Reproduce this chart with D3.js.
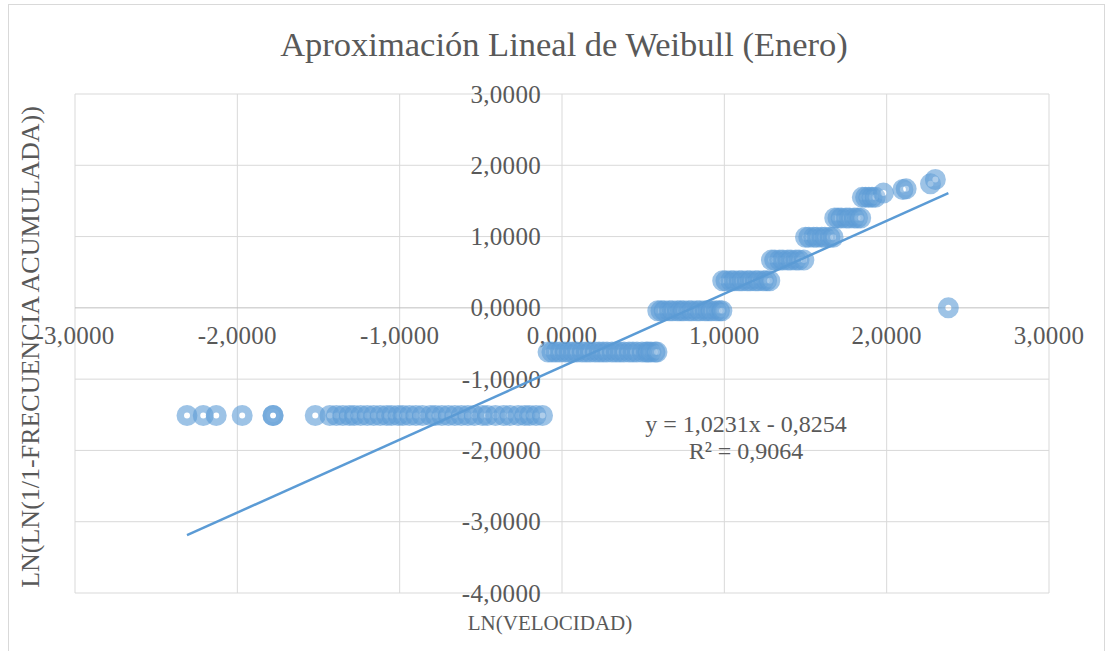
<!DOCTYPE html>
<html lang="es">
<head>
<meta charset="utf-8">
<title>Aproximación Lineal de Weibull (Enero)</title>
<script src="https://cdn.jsdelivr.net/npm/d3@7"></script>
<style>
  body { margin: 0; background: #fff; }
  svg text { font-family: "Liberation Serif", "Times New Roman", Times, serif; fill: #595959; }
  .grid { stroke: #D9D9D9; stroke-width: 1; }
</style>
</head>
<body>
<script>
// niveles de LN(LN(1/(1-F))) y valores de LN(velocidad) de cada nivel
var yLevels = [-1.51, -0.62, -0.04, 0.38, 0.67, 0.99, 1.26, 1.55];
var xRows = [
  [-2.31, -2.21, -2.13, -1.97, -1.78, -1.78, -1.52, -1.43, -1.39, -1.35, -1.31, -1.28, -1.24, -1.20,
   -1.16, -1.12, -1.08, -1.05, -1.01, -0.98, -0.94, -0.90, -0.86, -0.81, -0.78, -0.74, -0.70, -0.66,
   -0.62, -0.58, -0.54, -0.49, -0.46, -0.41, -0.36, -0.32, -0.27, -0.23, -0.20, -0.16, -0.12],
  [-0.086, -0.062, -0.037, -0.012, 0.018, 0.043, 0.068, 0.092, 0.123, 0.148, 0.173, 0.203, 0.228,
   0.253, 0.277, 0.308, 0.333, 0.357, 0.382, 0.413, 0.437, 0.462, 0.493, 0.518, 0.53, 0.548, 0.573, 0.585],
  [0.59, 0.61, 0.63, 0.66, 0.68, 0.71, 0.73, 0.75, 0.78, 0.80, 0.83, 0.85, 0.88, 0.90, 0.92, 0.95, 0.97, 0.985],
  [0.99, 1.01, 1.04, 1.06, 1.09, 1.11, 1.14, 1.16, 1.19, 1.21, 1.24, 1.26, 1.28],
  [1.29, 1.31, 1.34, 1.36, 1.39, 1.41, 1.44, 1.46, 1.49],
  [1.50, 1.52, 1.55, 1.57, 1.60, 1.62, 1.65, 1.67],
  [1.68, 1.70, 1.72, 1.75, 1.77, 1.80, 1.82, 1.84],
  [1.85, 1.87, 1.89, 1.91, 1.93]
];
// puntos sueltos
var extraX = [1.98, 2.10, 2.12, 2.27, 2.30, 2.38];
var extraY = [1.61, 1.66, 1.67, 1.74, 1.80, 0.00];

var xTicks = [-3, -2, -1, 0, 1, 2, 3];
var yTicks = [-4, -3, -2, -1, 0, 1, 2, 3];

var slope = 1.0231, intercept = -0.8254, r2 = 0.9064;

var w = 1111, h = 651;

var points = [];
yLevels.forEach(function(yv, i) {
  xRows[i].forEach(function(xv) { points.push({x: xv, y: yv}); });
});
extraX.forEach(function(xv, i) { points.push({x: xv, y: extraY[i]}); });

var loc = d3.formatLocale({decimal: ",", thousands: ".", grouping: [3], currency: ["", ""], minus: "-"});
var fmt = loc.format(".4f");

var x = d3.scaleLinear().domain([-3, 3]).range([75, 1049]);
var y = d3.scaleLinear().domain([-4, 3]).range([593, 94]);

var svg = d3.select("body").append("svg")
  .attr("width", w)
  .attr("height", h);

function label(parent, px, py, size, anchor, str) {
  return parent.append("text")
    .attr("x", px).attr("y", py)
    .attr("text-anchor", anchor)
    .style("font-size", size + "px")
    .text(str);
}

svg.append("rect")
  .attr("x", 8.5).attr("y", 4.5)
  .attr("width", 1096).attr("height", 700)
  .attr("fill", "white")
  .attr("stroke", "#D9D9D9");

label(svg, 564, 56, 34.5, "middle", "Aproximación Lineal de Weibull (Enero)");

// rejilla
svg.append("g").selectAll("line")
  .data(xTicks).enter().append("line")
  .attr("class", "grid")
  .attr("x1", function(d) { return x(d); }).attr("x2", function(d) { return x(d); })
  .attr("y1", y(3)).attr("y2", y(-4));

svg.append("g").selectAll("line")
  .data(yTicks).enter().append("line")
  .attr("class", "grid")
  .attr("x1", x(-3)).attr("x2", x(3))
  .attr("y1", function(d) { return y(d); }).attr("y2", function(d) { return y(d); })
  .style("stroke", function(d) { return d === 0 ? "#BFBFBF" : null; });

// etiquetas de ejes (cruzan en 0)
var gx = svg.append("g");
xTicks.forEach(function(d) {
  label(gx, x(d), y(0) + 36, 25, "middle", fmt(d)).style("letter-spacing", "0.3px");
});

var gy = svg.append("g");
yTicks.forEach(function(d) {
  label(gy, x(0) - 21, y(d) + 8.5, 25, "end", fmt(d)).style("letter-spacing", "0.3px");
});

label(svg, 550, 630, 21, "middle", "LN(VELOCIDAD)");
label(svg, 0, 0, 26, "middle", "LN(LN(1/1-FRECUENCIA ACUMULADA))")
  .attr("transform", "translate(39,347) rotate(-90)");

// marcadores
svg.append("g").selectAll("circle")
  .data(points).enter().append("circle")
  .attr("cx", function(d) { return x(d.x); })
  .attr("cy", function(d) { return y(d.y); })
  .attr("r", 6.75)
  .style("fill", "white")
  .style("fill-opacity", 0.18)
  .style("stroke", "#5B9BD5")
  .style("stroke-opacity", 0.6)
  .style("stroke-width", 7.5);

// linea de tendencia
var ext = d3.extent(points, function(d) { return d.x; });
svg.append("line")
  .attr("x1", x(ext[0])).attr("y1", y(slope * ext[0] + intercept))
  .attr("x2", x(ext[1])).attr("y2", y(slope * ext[1] + intercept))
  .style("stroke", "#5B9BD5")
  .style("stroke-width", 2.5);

label(svg, 746, 432, 24, "middle", "y = " + fmt(slope) + "x - " + fmt(-intercept));
label(svg, 746, 459, 24, "middle", "R² = " + fmt(r2));
</script>
</body>
</html>
